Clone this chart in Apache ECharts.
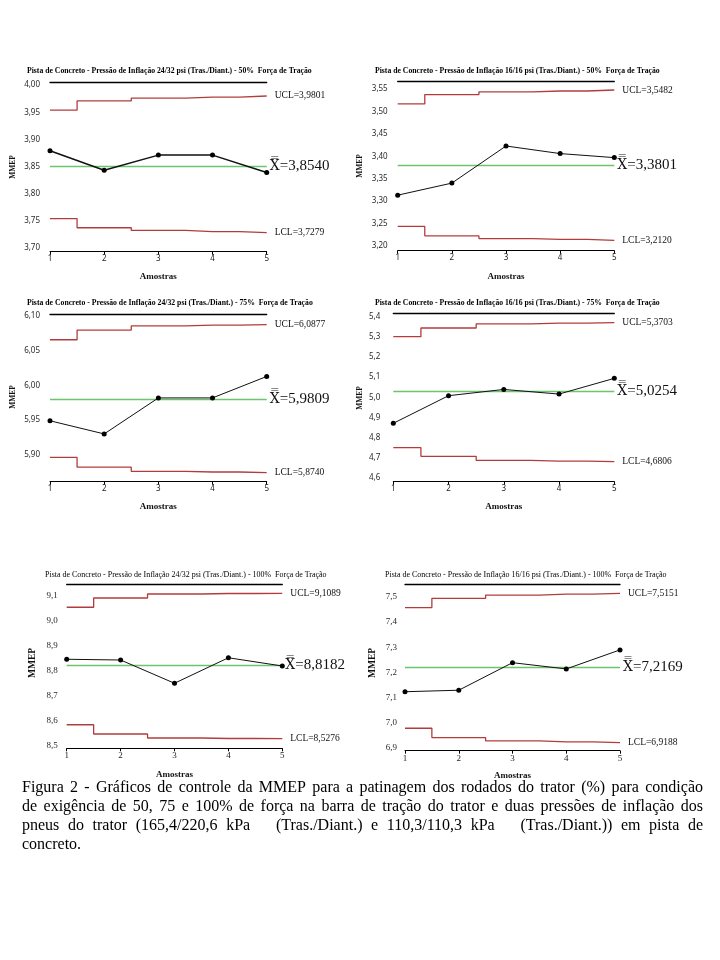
<!DOCTYPE html>
<html>
<head>
<meta charset="utf-8">
<script src="https://cdn.jsdelivr.net/npm/echarts@6.0.0/dist/echarts.min.js"></script>
<style>
html,body{margin:0;padding:0;background:#fff;}
#chart{width:720px;height:960px;}
</style>
</head>
<body>
<div id="chart"></div>
<script>
// ---------------- DATA ----------------
const samples = [1, 2, 3, 4, 5];

const title1 = "Pista de Concreto - Pressão de Inflação 24/32 psi (Tras./Diant.) - 50%  Força de Tração";
const title2 = "Pista de Concreto - Pressão de Inflação 16/16 psi (Tras./Diant.) - 50%  Força de Tração";
const title3 = "Pista de Concreto - Pressão de Inflação 24/32 psi (Tras./Diant.) - 75%  Força de Tração";
const title4 = "Pista de Concreto - Pressão de Inflação 16/16 psi (Tras./Diant.) - 75%  Força de Tração";
const title5 = "Pista de Concreto - Pressão de Inflação 24/32 psi (Tras./Diant.) - 100%  Força de Tração";
const title6 = "Pista de Concreto - Pressão de Inflação 16/16 psi (Tras./Diant.) - 100%  Força de Tração";

const p1Means = [3.879, 3.843, 3.871, 3.871, 3.839];
const p1Ucl   = [3.954, 3.971, 3.976, 3.978, 3.9801];
const p1Lcl   = [3.754, 3.737, 3.732, 3.730, 3.7279];
const p1Cl    = 3.8540;

const p2Means = [3.313, 3.340, 3.423, 3.406, 3.397];
const p2Ucl   = [3.517, 3.538, 3.544, 3.546, 3.5482];
const p2Lcl   = [3.243, 3.222, 3.216, 3.214, 3.2120];
const p2Cl    = 3.3801;

const p3Means = [5.949, 5.930, 5.982, 5.982, 6.013];
const p3Ucl   = [6.066, 6.080, 6.086, 6.087, 6.0877];
const p3Lcl   = [5.896, 5.882, 5.876, 5.875, 5.8740];
const p3Cl    = 5.9809;

const p4Means = [4.871, 5.008, 5.039, 5.016, 5.094];
const p4Ucl   = [5.301, 5.344, 5.364, 5.368, 5.3703];
const p4Lcl   = [4.750, 4.707, 4.687, 4.683, 4.6806];
const p4Cl    = 5.0254;

const p5Means = [8.845, 8.842, 8.749, 8.851, 8.818];
const p5Ucl   = [9.053, 9.090, 9.106, 9.108, 9.1089];
const p5Lcl   = [8.583, 8.546, 8.530, 8.528, 8.5276];
const p5Cl    = 8.8182;

const p6Means = [7.122, 7.128, 7.238, 7.213, 7.289];
const p6Ucl   = [7.458, 7.495, 7.508, 7.512, 7.5151];
const p6Lcl   = [6.976, 6.939, 6.926, 6.922, 6.9188];
const p6Cl    = 7.2169;

// y-axis tick ranges: [min, max, interval, decimals]
const p1Ticks = [3.70, 4.00, 0.05, 2];
const p2Ticks = [3.20, 3.55, 0.05, 2];
const p3Ticks = [5.90, 6.10, 0.05, 2];
const p4Ticks = [4.6, 5.4, 0.1, 1];
const p5Ticks = [8.5, 9.1, 0.1, 1];
const p6Ticks = [6.9, 7.5, 0.1, 1];

const xAxisName = "Amostras";
const yAxisName = "MMEP";

const captionLines = [
  "Figura 2 - Gráficos de controle da MMEP para a patinagem dos rodados do trator (%) para condição",
  "de exigência de 50, 75 e 100% de força na barra de tração do trator e duas pressões de inflação dos",
  "pneus do trator (165,4/220,6 kPa   (Tras./Diant.) e 110,3/110,3 kPa   (Tras./Diant.)) em pista de",
  "concreto."
];

// ---------------- LAYOUT (pixels) ----------------
const layouts = [
  {x1:50,   x5:266.7, yTop:85.2,  yBot:247.8, topOff:2.5,  botOff:3.9, nameGap:20, labM:10, tx:27,  ty:71,  mx:12.7, my:167, bold:true,  serifTicks:false, mmepSize:7.5},
  {x1:397.7,x5:614.3, yTop:89.2,  yBot:245.7, topOff:7.5,  botOff:5,   nameGap:21, labM:10, tx:375, ty:71,  mx:360,  my:166, bold:true,  serifTicks:false, mmepSize:7.5},
  {x1:50,   x5:266.7, yTop:316.2, yBot:454.7, topOff:2.2,  botOff:27,  nameGap:20, labM:10, tx:27,  ty:303, mx:12.7, my:397, bold:true,  serifTicks:false, mmepSize:7.5},
  {x1:393.3,x5:614.3, yTop:316.7, yBot:477.9, topOff:3.4,  botOff:3.8, nameGap:20, labM:13, tx:375, ty:303, mx:360,  my:398, bold:true,  serifTicks:false, mmepSize:7.5},
  {x1:66.7, x5:282.3, yTop:595.5, yBot:745.5, topOff:11.5, botOff:2.8, nameGap:22, labM:9,  tx:45,  ty:575, mx:33,   my:663, bold:false, serifTicks:true,  mmepSize:9.5},
  {x1:405,  x5:620,   yTop:597.1, yBot:747.3, topOff:13.1, botOff:3.4, nameGap:20, labM:8,  tx:385, ty:575, mx:373,  my:663, bold:false, serifTicks:true,  mmepSize:9.5}
];
const titleWidths = [285, 285, 286, 285, 282, 282];

const panels = [
  {title:title1, means:p1Means, ucl:p1Ucl, lcl:p1Lcl, cl:p1Cl, ticks:p1Ticks},
  {title:title2, means:p2Means, ucl:p2Ucl, lcl:p2Lcl, cl:p2Cl, ticks:p2Ticks},
  {title:title3, means:p3Means, ucl:p3Ucl, lcl:p3Lcl, cl:p3Cl, ticks:p3Ticks},
  {title:title4, means:p4Means, ucl:p4Ucl, lcl:p4Lcl, cl:p4Cl, ticks:p4Ticks},
  {title:title5, means:p5Means, ucl:p5Ucl, lcl:p5Lcl, cl:p5Cl, ticks:p5Ticks},
  {title:title6, means:p6Means, ucl:p6Ucl, lcl:p6Lcl, cl:p6Cl, ticks:p6Ticks}
];

const SERIF = '"Liberation Serif", "Times New Roman", serif';
const SANS = '"Noto Sans", "Liberation Sans", sans-serif';
const RED = '#b23c3c';
const GREEN = '#6cc46c';

const mctx = document.createElement('canvas').getContext('2d');
function measure(text, font) { mctx.font = font; return mctx.measureText(text).width; }
function comma(v, d) { return Number(v).toFixed(d).replace('.', ','); }

const grids = [], xAxes = [], yAxes = [], series = [], graphics = [];

panels.forEach((p, i) => {
  const L = layouts[i];
  const tickFamily = L.serifTicks ? SERIF : SANS;
  const tickSize = L.serifTicks ? 9 : 8;
  grids.push({left:L.x1, top:L.yTop, width:L.x5 - L.x1, height:L.yBot - L.yTop, containLabel:false, outerBoundsMode:'none'});
  xAxes.push({
    gridIndex:i, type:'value', min:samples[0], max:samples[samples.length-1], interval:1,
    position:'bottom', offset:L.botOff,
    axisLine:{show:true, onZero:false, lineStyle:{color:'#000', width:1}},
    axisTick:{show:true, length:3, lineStyle:{color:'#000', width:1}},
    splitLine:{show:false},
    axisLabel:{fontFamily:tickFamily, fontSize:tickSize, color:'#222', margin:3},
    name:xAxisName, nameLocation:'middle', nameGap:L.nameGap,
    nameTextStyle:{fontFamily:SERIF, fontWeight:'bold', fontSize:9, color:'#111'}
  });
  xAxes.push({
    gridIndex:i, type:'value', min:samples[0], max:samples[samples.length-1], interval:1,
    position:'top', offset:L.topOff,
    axisLine:{show:true, onZero:false, lineStyle:{color:'#000', width:1.3}},
    axisTick:{show:false}, axisLabel:{show:false}, splitLine:{show:false}
  });
  const [tmin, tmax, tint, dec] = p.ticks;
  yAxes.push({
    gridIndex:i, type:'value', min:tmin, max:tmax, interval:tint,
    axisLine:{show:false}, axisTick:{show:false}, splitLine:{show:false},
    axisLabel:{formatter:v => comma(v, dec), fontFamily:tickFamily, fontSize:tickSize, color:'#2a2a2a', margin:L.labM}
  });
  const limitLabel = (prefix, arr) => ({
    show:true, formatter: prefix + '=' + comma(arr[arr.length-1], 4),
    fontFamily:SERIF, fontSize:9.5, color:'#111', distance:8
  });
  series.push({
    type:'line', xAxisIndex:2*i, yAxisIndex:i, step:'middle', clip:false, z:2,
    data: samples.map((s, k) => [s, p.ucl[k]]), showSymbol:false, symbol:'none',
    lineStyle:{color:RED, width:1.3}, endLabel: limitLabel('UCL', p.ucl), silent:true
  });
  series.push({
    type:'line', xAxisIndex:2*i, yAxisIndex:i, step:'middle', clip:false, z:2,
    data: samples.map((s, k) => [s, p.lcl[k]]), showSymbol:false, symbol:'none',
    lineStyle:{color:RED, width:1.3}, endLabel: limitLabel('LCL', p.lcl), silent:true,
    markLine:{
      silent:true, symbol:['none','none'], z:1,
      lineStyle:{color:GREEN, width:1.3, type:'solid'},
      label:{show:true, position:'end', distance:3,
             formatter:'{xb|X\u033F}{v|=' + comma(p.cl, 4) + '}',
             rich:{
               xb:{fontFamily:'"DejaVu Serif", serif', fontSize:14, color:'#111'},
               v:{fontFamily:SERIF, fontSize:15, color:'#111'}
             }},
      data:[{yAxis:p.cl}]
    }
  });
  series.push({
    type:'line', xAxisIndex:2*i, yAxisIndex:i, clip:false, z:3,
    data: samples.map((s, k) => [s, p.means[k]]),
    symbol:'circle', symbolSize:5, showSymbol:true,
    itemStyle:{color:'#000'}, lineStyle:{color:'#111', width:i === 0 ? 1.5 : 1}, silent:true
  });
  const tWeight = L.bold ? 'bold' : 'normal';
  const tSize = 10 * titleWidths[i] / measure(p.title, tWeight + ' 10px ' + SERIF);
  graphics.push({type:'text', x:L.tx, y:L.ty, silent:true,
    style:{text:p.title, fontFamily:SERIF, fontWeight:tWeight, fontSize:tSize, fill:'#000', align:'left', verticalAlign:'middle'}});
  graphics.push({type:'text', x:L.mx, y:L.my, rotation:Math.PI/2, silent:true,
    style:{text:yAxisName, fontFamily:SERIF, fontWeight:'bold', fontSize:L.mmepSize, fill:'#111', align:'center', verticalAlign:'middle'}});
});

// justified caption
const capFont = 16;
const capLeft = 22, capRight = 703;
const capY = [788, 807, 826, 845];
const capFontStr = capFont + 'px ' + SERIF;
captionLines.forEach((line, li) => {
  const words = line.split(' ');
  const widths = words.map(w => measure(w, capFontStr));
  const total = widths.reduce((a, b) => a + b, 0);
  const last = li === captionLines.length - 1;
  const gap = last ? measure(' ', capFontStr) : (capRight - capLeft - total) / (words.length - 1);
  let x = capLeft;
  words.forEach((w, k) => {
    if (w.length) {
      graphics.push({type:'text', x:x, y:capY[li], silent:true,
        style:{text:w, fontFamily:SERIF, fontSize:capFont, fill:'#000', align:'left', verticalAlign:'middle'}});
    }
    x += widths[k] + gap;
  });
});

const chart = echarts.init(document.getElementById('chart'), null, {renderer:'canvas'});
chart.setOption({
  backgroundColor:'#fff',
  animation:false,
  grid:grids, xAxis:xAxes, yAxis:yAxes, series:series,
  graphic:graphics
});
</script>
</body>
</html>
